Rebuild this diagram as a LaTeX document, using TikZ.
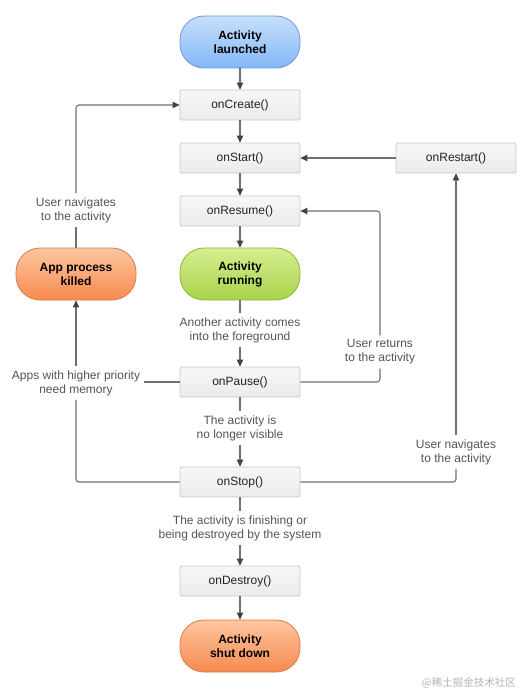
\documentclass[tikz,border=0pt]{standalone}
\usepackage{fontspec}
\setmainfont{Liberation Sans}
\newfontfamily\cjkfont{Noto Sans CJK SC}
\usetikzlibrary{arrows.meta}
\definecolor{boxline}{HTML}{C9C9C9}
\definecolor{boxtop}{HTML}{F7F7F7}
\definecolor{boxbot}{HTML}{EBEBEB}
\definecolor{boxtext}{HTML}{222222}
\definecolor{lbltext}{HTML}{555555}
\definecolor{linecol}{HTML}{707070}
\definecolor{arrowcol}{HTML}{444444}
\definecolor{bluetop}{HTML}{C6E0FC}
\definecolor{bluebot}{HTML}{82B7F7}
\definecolor{blueline}{HTML}{6C9CD8}
\definecolor{greentop}{HTML}{D6EE90}
\definecolor{greenbot}{HTML}{A9D24B}
\definecolor{greenline}{HTML}{8DB33C}
\definecolor{orangetop}{HTML}{FDC6A0}
\definecolor{orangebot}{HTML}{F78A4F}
\definecolor{orangeline}{HTML}{D97C48}
\definecolor{wmark}{HTML}{B4B4B4}
\begin{document}
\begin{tikzpicture}[x=1pt,y=-1pt,
  box/.style={draw=boxline, line width=0.8pt, rounded corners=2pt, top color=boxtop, bottom color=boxbot,
    minimum width=120pt, minimum height=30pt, inner sep=0pt,
    font=\fontsize{12}{14}\selectfont, text=boxtext},
  pill/.style={rounded corners=24pt, line width=0.8pt, minimum width=120pt, minimum height=52pt,
    inner sep=0pt, align=center, font=\fontsize{12}{14}\selectfont\bfseries, text=black},
  bluepill/.style={pill, draw=blueline, top color=bluetop, bottom color=bluebot},
  greenpill/.style={pill, draw=greenline, top color=greentop, bottom color=greenbot},
  orangepill/.style={pill, draw=orangeline, top color=orangetop, bottom color=orangebot},
  lbl/.style={align=center, font=\fontsize{12}{14}\selectfont, text=lbltext, inner sep=4pt},
  conn/.style={draw=linecol, line width=1.1pt},
  arr/.style={conn, -{Triangle[length=7pt,width=6.5pt,color=arrowcol]}},
  corner/.style={rounded corners=3pt}]
\useasboundingbox (0,0) rectangle (523,693);
\fill[white] (0,0) rectangle (523,693);

% main column
\node[bluepill] (launched) at (240,42) {Activity\\launched};
\node[box] (onCreate) at (240,105) {onCreate()};
\node[box] (onStart) at (240,158) {onStart()};
\node[box] (onRestart) at (456,158) {onRestart()};
\node[box] (onResume) at (240,211) {onResume()};
\node[greenpill] (running) at (240,274) {Activity\\running};
\node[orangepill] (killed) at (76,274) {App process\\killed};
\node[box] (onPause) at (240,382) {onPause()};
\node[box] (onStop) at (240,482) {onStop()};
\node[box] (onDestroy) at (240,581) {onDestroy()};
\node[orangepill] (shutdown) at (240,646) {Activity\\shut down};

% labels
\node[lbl] (lNavL) at (76,210) {User navigates\\to the activity};
\node[lbl] (lFore) at (240,330) {Another activity comes\\into the foreground};
\node[lbl] (lRet) at (380,352) {User returns\\to the activity};
\node[lbl] (lMem) at (76,383) {Apps with higher priority\\need memory};
\node[lbl] (lVis) at (240,428) {The activity is\\no longer visible};
\node[lbl] (lNavR) at (456,452) {User navigates\\to the activity};
\node[lbl] (lFin) at (240,528) {The activity is finishing or\\being destroyed by the system};

% vertical flow
\draw[arr] (launched) -- (onCreate);
\draw[arr] (onCreate) -- (onStart);
\draw[arr] (onStart) -- (onResume);
\draw[arr] (onResume) -- (running);
\draw[conn] (running) -- (lFore);
\draw[arr] (lFore) -- (onPause);
\draw[conn] (onPause) -- (lVis);
\draw[arr] (lVis) -- (onStop);
\draw[conn] (onStop) -- (lFin);
\draw[arr] (lFin) -- (onDestroy);
\draw[arr] (onDestroy) -- (shutdown);

% restart
\draw[arr] (onRestart) -- (onStart);

% user returns
\draw[conn, corner] (onPause.east) -| (lRet.south);
\draw[arr, corner] (lRet.north) |- (onResume.east);

% user navigates (right)
\draw[conn, corner] (onStop.east) -| (lNavR.south);
\draw[arr] (lNavR.north) -- (onRestart.south);

% apps with higher priority
\draw[conn, corner] (onStop.west) -| (lMem.south);
\draw[conn] (onPause.west) -- (lMem.east |- onPause.west);
\draw[arr] (lMem.north) -- (killed.south);

% user navigates (left)
\draw[conn] (killed.north) -- (lNavL.south);
\draw[arr, corner] (lNavL.north) |- (onCreate.west);

% watermark
\node[font=\cjkfont\fontsize{10.5}{12}\selectfont, text=wmark, anchor=east, inner sep=0pt] (wm) at (516,683) {@稀土掘金技术社区};
\end{tikzpicture}
\end{document}
